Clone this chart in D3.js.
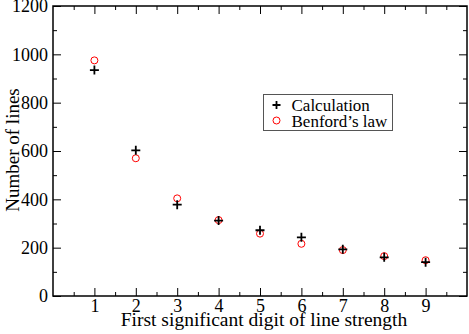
<!DOCTYPE html>
<html>
<head>
<meta charset="utf-8">
<script src="https://cdn.jsdelivr.net/npm/d3@7"></script>
<style>
  body { margin: 0; background: #fff; }
</style>
</head>
<body>
<script>
// data
let digits = [1, 2, 3, 4, 5, 6, 7, 8, 9]
let calculation = [935, 603, 378, 312, 272, 243, 193, 160, 140]
let benford = [975, 570, 404, 314, 258, 216, 190, 165, 148]
let xTicks = [1, 2, 3, 4, 5, 6, 7, 8, 9]
let yTicks = [0, 200, 400, 600, 800, 1000, 1200]

let serif = "'Liberation Serif', 'DejaVu Serif', serif"
let width = 469, height = 334
let margin = {top: 6, right: 2, bottom: 38, left: 53}
let w = width - margin.left - margin.right
let h = height - margin.top - margin.bottom

let svg = d3.select("body").append("svg")
    .attr("width", width)
    .attr("height", height)

let g = svg.append("g")
    .attr("transform", "translate(" + margin.left + "," + margin.top + ")")

let x = d3.scaleLinear().domain([0, 10]).range([0, w])
let y = d3.scaleLinear().domain([0, 1200]).range([h, 0])

// minor ticks every half unit / 100 lines
let xMinor = d3.range(0.5, 10, 1)
let yMinor = d3.range(100, 1200, 200)

function tickAxis(axisFn, scale, major, minor, pos, labels, pad) {
  let major_ = axisFn(scale).tickValues(major).tickSizeInner(-8).tickSizeOuter(0)
      .tickPadding(pad).tickFormat(labels ? d3.format("d") : "")
  let a = g.append("g").attr("transform", pos).call(major_)
  a.select(".domain").remove()
  a.selectAll("line").attr("stroke", "#000")
  a.selectAll("text")
      .style("font-family", serif)
      .style("font-size", "18px")
      .attr("fill", "#000")
  let minor_ = axisFn(scale).tickValues(minor).tickSizeInner(-4).tickSizeOuter(0).tickFormat("")
  let b = g.append("g").attr("transform", pos).call(minor_)
  b.select(".domain").remove()
  b.selectAll("line").attr("stroke", "#000")
}

tickAxis(d3.axisBottom, x, xTicks, xMinor, "translate(0," + h + ")", true, 3)
tickAxis(d3.axisTop, x, xTicks, xMinor, "translate(0,0)", false, 3)
tickAxis(d3.axisLeft, y, yTicks, yMinor, "translate(0,0)", true, 5)
tickAxis(d3.axisRight, y, yTicks, yMinor, "translate(" + w + ",0)", false, 5)

// frame
g.append("rect")
    .attr("width", w)
    .attr("height", h)
    .attr("fill", "none")
    .attr("stroke", "#000")
    .attr("stroke-width", 1.5)

// axis titles
svg.append("text")
    .attr("x", 264)
    .attr("y", 326)
    .attr("text-anchor", "middle")
    .style("font-family", serif)
    .style("font-size", "19.5px")
    .text("First significant digit of line strength")

svg.append("text")
    .attr("transform", "translate(19,150) rotate(-90)")
    .attr("text-anchor", "middle")
    .style("font-family", serif)
    .style("font-size", "19px")
    .text("Number of lines")

// benford circles
g.selectAll(".benford")
  .data(digits)
  .enter()
  .append("circle")
    .attr("class", "benford")
    .attr("cx", d => x(d))
    .attr("cy", (d, i) => y(benford[i]))
    .attr("r", 3.5)
    .attr("fill", "none")
    .attr("stroke", "#ff0000")
    .attr("stroke-width", 1)

// calculation plus signs
function plusPath(s) {
  return "M" + (-s) + ",0H" + s + "M0," + (-s) + "V" + s
}
g.selectAll(".calc")
  .data(digits)
  .enter()
  .append("path")
    .attr("class", "calc")
    .attr("transform", (d, i) => "translate(" + x(d) + "," + y(calculation[i]) + ")")
    .attr("d", plusPath(4.5))
    .attr("stroke", "#000")
    .attr("stroke-width", 1.8)

// legend
let leg = svg.append("g").attr("transform", "translate(263.5,94.5)")
leg.append("rect")
    .attr("width", 129)
    .attr("height", 36)
    .attr("fill", "#fff")
    .attr("stroke", "#555")
    .attr("stroke-width", 1)
leg.append("path")
    .attr("transform", "translate(13,10.5)")
    .attr("d", plusPath(4))
    .attr("stroke", "#000")
    .attr("stroke-width", 1.8)
leg.append("circle")
    .attr("cx", 13)
    .attr("cy", 26)
    .attr("r", 3.5)
    .attr("fill", "none")
    .attr("stroke", "#ff0000")
leg.selectAll(".lab")
  .data(["Calculation", "Benford’s law"])
  .enter()
  .append("text")
    .attr("x", 28)
    .attr("y", (d, i) => 16 + i * 16)
    .style("font-family", serif)
    .style("font-size", "17px")
    .text(d => d)
</script>
</body>
</html>
